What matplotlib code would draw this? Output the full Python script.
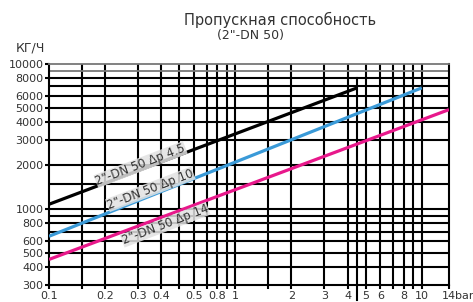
import numpy as np
import matplotlib
matplotlib.use("Agg")
import matplotlib.pyplot as plt

plt.rcParams['font.family'] = ['DejaVu Sans']

# Data (pressure in bar, flow in kg/h)
p_45 = [0.1, 4.5]
q_45 = [1080, 6850]
p_10 = [0.1, 10]
q_10 = [650, 6850]
p_14 = [0.1, 14]
q_14 = [450, 4850]

curve_labels = ['2"-DN 50 Δp 4.5', '2"-DN 50 Δp 10', '2"-DN 50 Δp 14']
label_x = [0.31, 0.35, 0.42]
label_y = [2030, 1370, 780]

x_grid = [0.15, 0.2, 0.3, 0.4, 0.5, 0.6, 0.7, 0.8, 0.9, 1, 1.5, 2, 3, 4, 5, 6, 7, 8, 9, 10]
y_grid = [400, 500, 600, 700, 800, 900, 1000, 1500, 2000, 3000, 4000, 5000, 6000, 7000, 8000]
y_grid_grey = [9000]

x_tick_pos = [0.1, 0.2, 0.3, 0.4, 0.6, 0.8, 1, 2, 3, 4, 5, 6, 8, 10, 14]
x_tick_lab = ['0.1', '0.2', '0.3', '0.4', '0.5', '0.8', '1', '2', '3', '4', '5', '6', '8', '10', '14']
y_ticks = [300, 400, 500, 600, 800, 1000, 2000, 3000, 4000, 5000, 6000, 8000, 10000]

fig = plt.figure(figsize=(4.73, 3.02), dpi=100)
ax = fig.add_axes([49 / 473, 1 - 285 / 302, 400 / 473, 221 / 302])
ax.set_xscale('log')
ax.set_yscale('log')
ax.set_xlim(0.1, 14)
ax.set_ylim(300, 10000)

# grid
for x in x_grid:
    ax.axvline(x, color='black', lw=1.5, zorder=1)
for y in y_grid:
    ax.axhline(y, color='black', lw=1.5, zorder=1)
for y in y_grid_grey:
    ax.axhline(y, color='#777777', lw=1.3, zorder=1)

# marker line at 4.5 bar, running below the axis
ax.axvline(4.5, ymin=-0.068, ymax=np.log(8000 / 300) / np.log(10000 / 300),
           color='black', lw=1.5, clip_on=False, zorder=1)

# curves
ax.plot(p_45, q_45, color='black', lw=2.3, zorder=3, solid_capstyle='butt')
ax.plot(p_10, q_10, color='#3a9ad8', lw=2.3, zorder=3, solid_capstyle='butt')
ax.plot(p_14, q_14, color='#e8188b', lw=2.3, zorder=3, solid_capstyle='butt')

for lab, lx, ly in zip(curve_labels, label_x, label_y):
    ax.text(lx, ly, lab, rotation=21, ha='center', va='center', fontsize=8.5,
            color='#333333', zorder=4,
            bbox=dict(boxstyle='square,pad=0.02', fc='#e2e2e2', ec='none', alpha=0.85))

# axes / ticks
for s in ['left', 'bottom', 'right']:
    ax.spines[s].set_linewidth(1.5)
    ax.spines[s].set_color('black')
ax.spines['top'].set_color('#777777')
ax.spines['top'].set_linewidth(1.3)

ax.set_xticks(x_tick_pos)
ax.set_xticklabels(x_tick_lab)
ax.set_xticks(x_grid, minor=True)
ax.set_yticks(y_ticks)
ax.set_yticklabels([str(v) for v in y_ticks])
ax.yaxis.set_minor_locator(plt.NullLocator())
ax.xaxis.set_minor_formatter(plt.NullFormatter())
ax.tick_params(axis='x', which='both', direction='out', length=3, width=1.5, pad=1,
               labelsize=8, labelcolor='#333333')
ax.tick_params(axis='y', which='major', direction='out', length=3, width=1.5, pad=1,
               labelsize=8, labelcolor='#333333')

fig.text(449 / 473 + 0.012, 1 - 296 / 302, 'bar', fontsize=8, color='#333333',
         ha='left', va='center')

fig.text(280 / 473, 1 - 20 / 302, 'Пропускная способность', fontsize=10.5,
         color='#333333', ha='center', va='center')
fig.text(250 / 473, 1 - 36 / 302, '(2"-DN 50)', fontsize=9, color='#333333',
         ha='center', va='center')
fig.text(30 / 473, 1 - 48 / 302, 'КГ/Ч', fontsize=9, color='#333333',
         ha='center', va='center')

plt.savefig('out.png', dpi=100)
